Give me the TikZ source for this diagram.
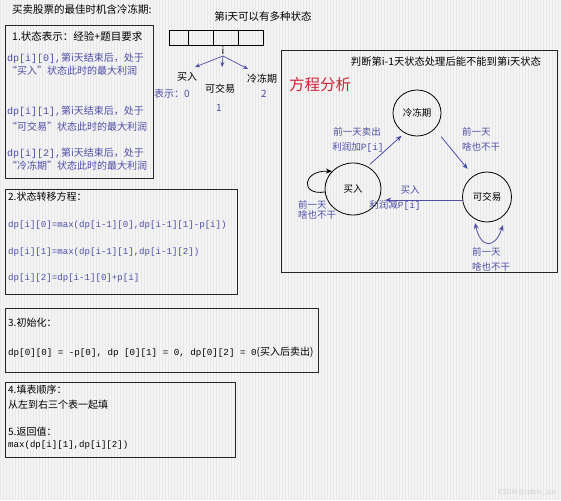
\documentclass[tikz,border=0pt]{standalone}
\usepackage{fontspec}
\setmainfont{Noto Sans CJK SC}
\setmonofont{Liberation Mono}
\usetikzlibrary{arrows.meta,shapes.geometric,calc}
\definecolor{tblue}{RGB}{78,78,168}
\definecolor{tred}{RGB}{205,35,55}
\definecolor{bgc}{RGB}{244,244,244}
\definecolor{gridc}{RGB}{232,232,232}
\newcommand{\m}[1]{{\ttfamily #1}}
\begin{document}
\begin{tikzpicture}[x=1pt,y=-1pt,
  txt/.style={inner sep=0pt,font=\fontsize{10}{12}\selectfont},
  ltxt/.style={txt,anchor=west},
  btxt/.style={ltxt,text=tblue},
  lbl/.style={inner sep=0pt,font=\fontsize{9.5}{11}\selectfont,text=tblue},
  frame/.style={draw=black!85,line width=1pt},
  state/.style={draw,ellipse,line width=0.8pt,inner sep=0pt,font=\fontsize{9.5}{11}\selectfont},
  barr/.style={draw=tblue,line width=0.8pt,-{Stealth[length=6pt,width=5pt]}},
  cell/.style={draw,line width=0.9pt,minimum height=15pt,inner sep=0pt,anchor=north west}]
\useasboundingbox (0,0) rectangle (561,500);
\fill[bgc] (0,0) rectangle (561,500);
\draw[gridc,line width=0.3pt,step=3] (0,0) grid (561,500);

% title
\node[txt,anchor=west,font=\fontsize{10.5}{12}\selectfont] (title) at (12,9) {买卖股票的最佳时机含冷冻期:};

% box 1
\draw[frame] (5,26) rectangle (153,178);
\node[ltxt,font=\fontsize{10.5}{12}\selectfont] (b1h) at (12,36) {1.状态表示：经验+题目要求};
\node[btxt] (b1a) at (7,58) {\m{dp[i][0],}第i天结束后，处于};
\node[btxt] (b1b) at (7,71) {“买入”状态此时的最大利润};
\node[btxt] (b1c) at (7,111) {\m{dp[i][1],}第i天结束后，处于};
\node[btxt] (b1d) at (7,127) {“可交易”状态此时的最大利润};
\node[btxt] (b1e) at (7,153) {\m{dp[i][2],}第i天结束后，处于};
\node[btxt] (b1f) at (7,166) {“冷冻期”状态此时的最大利润};

% array
\node[txt,font=\fontsize{10.5}{12}\selectfont] (arrt) at (263,17) {第i天可以有多种状态};
\node[cell,minimum width=19pt] (c1) at (169,30) {};
\node[cell,minimum width=25pt] (c2) at (188,30) {};
\node[cell,minimum width=25pt] (c3) at (213,30) {};
\node[cell,minimum width=25pt] (c4) at (238,30) {};
\node[txt,font=\fontsize{10}{11}\selectfont] (iv) at (223,51) {i};
\coordinate (ia) at (223,56);
\node[txt] (sb) at (187,77) {买入};
\node[txt] (sk) at (220,89) {可交易};
\node[txt] (sc) at (262,79) {冷冻期};
\draw[barr,-{Stealth[length=5pt,width=4pt]},line width=0.7pt] (ia) -- (195,67);
\draw[barr,-{Stealth[length=5pt,width=4pt]},line width=0.7pt] (ia) -- (222,67);
\draw[barr,-{Stealth[length=5pt,width=4pt]},line width=0.7pt] (ia) -- (248,69);
\node[txt,text=tblue] (r0) at (172,94) {表示：0};
\node[txt,text=tblue] (r1) at (219,108) {1};
\node[txt,text=tblue] (r2) at (264,94) {2};

% right box
\draw[frame] (281,51) rectangle (557,272);
\node[txt,font=\fontsize{10.3}{12}\selectfont] (rt) at (446,62) {判断第i-1天状态处理后能不能到第i天状态};
\node[inner sep=0pt,text=tred,font=\fontsize{15.5}{18}\selectfont] (fa) at (320,85) {方程分析};

\node[state,minimum width=48pt,minimum height=46pt] (c) at (417,113) {冷冻期};
\node[state,minimum width=56pt,minimum height=52pt] (b) at (353,189) {买入};
\node[state,minimum width=49pt,minimum height=50pt] (k) at (487,197) {可交易};

\draw[barr,shorten <=3pt,shorten >=4pt] (b.57) -- (c.238);
\node[lbl] (l1a) at (357,132) {前一天卖出};
\node[lbl] (l1b) at (358,147) {利润加\m{P[i]}};

\draw[barr,shorten <=10pt,shorten >=9pt] (c.318) -- (k.123);
\node[lbl,anchor=west] (l2a) at (462,132) {前一天};
\node[lbl,anchor=west] (l2b) at (462,147) {啥也不干};

\coordinate (kk) at ($(k.west)+(0,3)$);
\draw[barr,shorten >=4pt] (kk) -- (kk -| b.east);
\node[lbl] (l3a) at (410,190) {买入};
\node[lbl] (l3b) at (395,205) {利润减\m{P[i]}};

\draw[line width=0.8pt,-{Stealth[length=6pt,width=5pt]}] (b.186) .. controls (300,196) and (302,170) .. (b.140);
\node[lbl,anchor=west] (l4a) at (298,205) {前一天};
\node[lbl,anchor=west] (l4b) at (298,215) {啥也不干};

\coordinate (kl) at ($(k.center)+(-12,26)$);
\coordinate (kr) at ($(k.center)+(16,28)$);
\draw[barr,{Stealth[length=6pt,width=5pt]}-{Stealth[length=6pt,width=5pt]}] (kl) .. controls ($(k.center)+(-6,52)$) and ($(k.center)+(8,52)$) .. (kr);
\node[lbl,anchor=west] (l5a) at (472,252) {前一天};
\node[lbl,anchor=west] (l5b) at (472,267) {啥也不干};

% box 2
\draw[frame] (5,189) rectangle (237,294);
\node[ltxt] (b2h) at (8,197) {2.状态转移方程：};
\node[btxt,font=\fontsize{9.1}{11}\ttfamily] (b2a) at (8,225) {dp[i][0]=max(dp[i-1][0],dp[i-1][1]-p[i])};
\node[btxt,font=\fontsize{9.1}{11}\ttfamily] (b2b) at (8,252) {dp[i][1]=max(dp[i-1][1],dp[i-1][2])};
\node[btxt,font=\fontsize{9.1}{11}\ttfamily] (b2c) at (8,278) {dp[i][2]=dp[i-1][0]+p[i]};

% box 3
\draw[frame] (5,308) rectangle (318,372);
\node[ltxt] (b3h) at (8,323) {3.初始化：};
\node[ltxt] (b3a) at (8,352) {\fontsize{9.2}{11}\ttfamily dp[0][0] = -p[0],\ dp [0][1] = 0,\ dp[0][2] = 0\rmfamily\fontsize{10}{12}\selectfont(买入后卖出)};

% box 4
\draw[frame] (5,382) rectangle (235,457);
\node[ltxt] (b4a) at (8,390) {4.填表顺序：};
\node[ltxt] (b4b) at (8,405) {从左到右三个表一起填};
\node[ltxt] (b4c) at (8,432) {5.返回值：};
\node[ltxt,font=\fontsize{9.1}{11}\ttfamily] (b4d) at (8,445) {max(dp[i][1],dp[i][2])};

% watermark
\node[inner sep=0pt,text=black!18,font=\fontsize{7}{8}\selectfont,anchor=east] (wm) at (556,492) {CSDN @robin\_sui};
\end{tikzpicture}
\end{document}
